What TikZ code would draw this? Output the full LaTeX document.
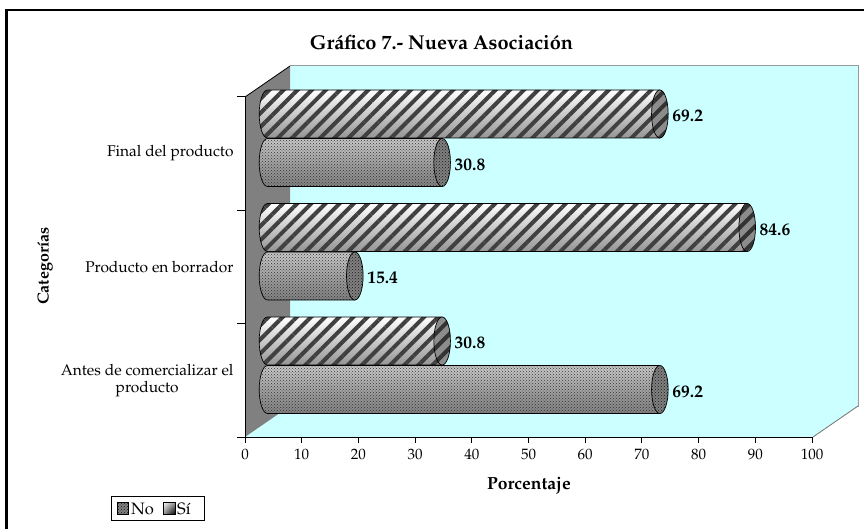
\documentclass[tikz,border=0pt]{standalone}
\usepackage[T1]{fontenc}
\usepackage{mathpazo}
\usetikzlibrary{patterns,patterns.meta,shadings}
\definecolor{wallcyan}{RGB}{204,255,255}
\definecolor{wallgray}{RGB}{128,128,128}
\pgfdeclareverticalshading{hatchbg}{100bp}{color(0bp)=(black!65); color(25bp)=(black!42); color(58bp)=(black!14); color(74bp)=(white); color(90bp)=(black!38); color(100bp)=(black!65)}
\pgfdeclareverticalshading{dotbg}{100bp}{color(0bp)=(black!62); color(40bp)=(black!42); color(72bp)=(black!22); color(100bp)=(black!42)}
\tikzset{
  catlbl/.style={font=\fontsize{15.5}{17.5}\selectfont, align=center, anchor=east},
  vallbl/.style={font=\bfseries\fontsize{17.5}{20}\selectfont, anchor=west},
  ticklbl/.style={font=\fontsize{15}{17}\selectfont, anchor=north},
  axtitle/.style={font=\bfseries\fontsize{17.5}{20}\selectfont},
  hatchbody/.style={preaction={shade, shading=hatchbg},
    preaction={pattern={Lines[angle=45,distance=10pt,line width=4pt]}, pattern color=black!75},
    draw=black, line width=0.7pt},
  hatchcap/.style={preaction={fill=black!45},
    preaction={pattern={Lines[angle=45,distance=10pt,line width=4pt]}, pattern color=black!80},
    draw=black, line width=0.7pt},
  dotbody/.style={preaction={shade, shading=dotbg},
    preaction={pattern=crosshatch dots, pattern color=black!80},
    draw=black, line width=0.7pt},
  dotcap/.style={preaction={fill=black!50},
    preaction={pattern=crosshatch dots, pattern color=black!90},
    draw=black, line width=0.7pt},
}
% #1 yc, #2 value, #3 body style, #4 cap style, #5 label
\newcommand\barcyl[5]{%
  \pgfmathsetmacro\xr{267.5+#2*5.67}
  \path[#3] (\xr,#1-24) -- (267.5,#1-24) arc[start angle=270,end angle=90,x radius=8.3,y radius=24] -- (\xr,#1+24) -- cycle;
  \path[#4] (\xr,#1) ellipse[x radius=8.3,y radius=24];
  \node[vallbl] at (\xr+9,#1+2) {#5};
}
\begin{document}
\begin{tikzpicture}[x=1pt,y=-1pt]
\useasboundingbox (0,0) rectangle (864,529);
\fill[white] (0,0) rectangle (864,529);
% outer frame
\draw[line width=2.5pt] (6.5,540) -- (6.5,10) -- (870,10);
% title
\node[font=\bfseries\fontsize{20}{23}\selectfont] (title) at (441.5,42) {Gráfico 7.- Nueva Asociación};
% walls
\fill[wallcyan] (290,66) rectangle (858,406);
\draw[black!40, line width=1pt] (290,406) -- (858,406) -- (858,66) -- (290,66);
\fill[wallcyan] (245,437) -- (290,406) -- (858,406) -- (813,437) -- cycle;
\draw[black!55, line width=0.8pt] (813,437) -- (858,406);
\fill[wallgray] (245,97) -- (290,66) -- (290,406) -- (245,437) -- cycle;
\draw[black, line width=0.8pt] (245,97) -- (290,66);
% axes
\draw[black, line width=1pt] (245,97) -- (245,437);
\draw[black, line width=1pt] (237,437) -- (813,437);
\foreach \yy in {97,210.3,323.7,437} \draw[black, line width=1pt] (237,\yy) -- (245,\yy);
\foreach \v in {0,10,...,100} {
  \draw[black, line width=1pt] (245+\v*5.67,437) -- (245+\v*5.67,443);
  \node[ticklbl] (t\v) at (245+\v*5.67,445.5) {\v};
}
% bars
\barcyl{114}{69.2}{hatchbody}{hatchcap}{69.2}
\barcyl{162.5}{30.8}{dotbody}{dotcap}{30.8}
\barcyl{227.5}{84.6}{hatchbody}{hatchcap}{84.6}
\barcyl{276}{15.4}{dotbody}{dotcap}{15.4}
\barcyl{341}{30.8}{hatchbody}{hatchcap}{30.8}
\barcyl{389.5}{69.2}{dotbody}{dotcap}{69.2}
% category labels
\node[catlbl] (c1) at (237,153.5) {Final del producto};
\node[catlbl] (c2) at (237,267) {Producto en borrador};
\node[catlbl] (c3) at (237,380.5) {Antes de comercializar el\\producto};
% axis titles
\node[axtitle] (xt) at (529,486) {Porcentaje};
\node[axtitle, font=\bfseries\fontsize{16}{18}\selectfont, rotate=90] (yt) at (45,266) {Categorías};
% legend
\draw[black, line width=0.6pt] (111,496) rectangle (204,520);
\path[preaction={fill=black!50}, pattern=crosshatch dots, pattern color=black!90, draw=black, line width=0.5pt] (117,502) rectangle (128,514);
\node[font=\fontsize{16.5}{18}\selectfont, anchor=west, inner sep=1pt] (lno) at (130,508.5) {No};
\shade[upper left=white, lower right=black, upper right=black!40, lower left=black!40, draw=black, line width=0.5pt] (163,502) rectangle (175,514);
\node[font=\fontsize{16.5}{18}\selectfont, anchor=west, inner sep=1pt] (lsi) at (176,508.5) {Sí};
\end{tikzpicture}
\end{document}
